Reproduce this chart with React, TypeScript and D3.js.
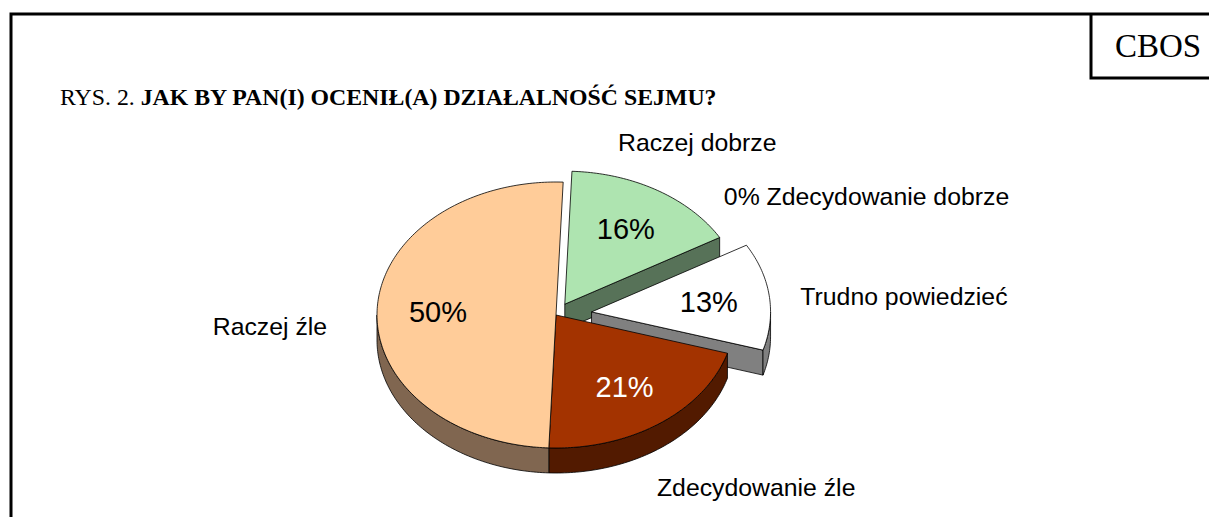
import React, { useEffect, useRef } from 'react';
import * as d3 from 'd3';

// survey answers, clockwise from the top of the pie
const categories = ['Raczej dobrze', 'Zdecydowanie dobrze', 'Trudno powiedzieć', 'Zdecydowanie źle', 'Raczej źle'];
const values = [16, 0, 13, 21, 50];

const topColors = ['#aee4b0', '#99ccff', '#ffffff', '#a33300', '#ffcc99'];
const sideColors = ['#577258', '#4d6680', '#808080', '#521a00', '#806650'];
const pctColors = ['#000', '#000', '#000', '#fff', '#000'];
const explode = [0.095, 0, 0.2, 0, 0];
// label nudge relative to the outer mid point of each slice: [dx, dy, anchor]
const labelNudge: [number, number, string][] = [
  [40, -48, 'middle'],
  [13, -52, 'start'],
  [31, 0, 'start'],
  [-3, 64, 'start'],
  [-50, 16, 'end'],
];

const W = 1209;
const H = 517;

const App = () => {
  const ref = useRef<SVGSVGElement>(null);

  useEffect(() => {
    const svg = d3.select(ref.current);
    svg.selectAll('*').remove();

    const sans = 'Liberation Sans, Arial, sans-serif';
    const serif = 'Liberation Serif, Times New Roman, serif';

    // frame and CBOS box
    const frame = svg.append('g').attr('stroke', '#000').attr('stroke-width', 3).attr('fill', 'none');
    frame.append('path').attr('d', `M11,517 L11,14 L${W},14`);
    frame.append('path').attr('d', `M1091,14 L1091,78 L${W},78`);

    svg.append('text')
      .attr('x', 1158).attr('y', 57)
      .attr('text-anchor', 'middle')
      .attr('font-family', serif).attr('font-size', 33)
      .text('CBOS');

    const title = svg.append('text')
      .attr('x', 60).attr('y', 105)
      .attr('font-family', serif).attr('font-size', 23.8);
    title.append('tspan').text('RYS. 2. ');
    title.append('tspan').attr('font-weight', 'bold').text('JAK BY PAN(I) OCENIŁ(A) DZIAŁALNOŚĆ SEJMU?');

    // 3D pie
    const cx = 556, cy = 315, rx = 179, ry = 133, depth = 25;
    const start = (2.3 * Math.PI) / 180;
    const pie = d3.pie<number>().sort(null).value((d) => d).startAngle(start).endAngle(start + 2 * Math.PI);
    const arcs = pie(values);
    const total = d3.sum(values);

    const slices = arcs.map((a, i) => {
      const mid = (a.startAngle + a.endAngle) / 2;
      const e = explode[i];
      const off: [number, number] = [e * rx * Math.sin(mid), -e * ry * Math.cos(mid)];
      return { a, i, mid, off };
    });

    const pt = (ang: number, k: number, off: [number, number], dz = 0): [number, number] => [
      cx + off[0] + k * rx * Math.sin(ang),
      cy + off[1] - k * ry * Math.cos(ang) + dz,
    ];
    const arcPts = (a0: number, a1: number, off: [number, number], dz = 0) => {
      const n = Math.max(2, Math.ceil(((a1 - a0) * 180) / Math.PI));
      return d3.range(n + 1).map((j) => pt(a0 + ((a1 - a0) * j) / n, 1, off, dz));
    };
    const line = d3.line();

    const gWalls = svg.append('g').attr('stroke', '#000').attr('stroke-width', 0.8).attr('stroke-linejoin', 'round');
    const gSides = svg.append('g').attr('stroke', '#000').attr('stroke-width', 0.8).attr('stroke-linejoin', 'round');
    const gTops = svg.append('g').attr('stroke', '#000').attr('stroke-width', 0.8).attr('stroke-linejoin', 'round');

    slices.forEach(({ a, i, off }) => {
      if (a.endAngle - a.startAngle <= 0) return;
      const c = pt(0, 0, off);

      // radial walls that face the viewer
      [
        [a.startAngle, a.startAngle - Math.PI / 2],
        [a.endAngle, a.endAngle + Math.PI / 2],
      ].forEach(([ang, normal]) => {
        if (Math.cos(normal) < -0.1) {
          const o = pt(ang, 1, off);
          gWalls.append('path')
            .attr('d', line([c, o, [o[0], o[1] + depth], [c[0], c[1] + depth]]) + 'Z')
            .attr('fill', sideColors[i]);
        }
      });

      // outer curved wall, front half only
      [0, 1].forEach((m) => {
        const lo = Math.max(a.startAngle, Math.PI / 2 + 2 * Math.PI * m);
        const hi = Math.min(a.endAngle, (3 * Math.PI) / 2 + 2 * Math.PI * m);
        if (hi > lo) {
          const topEdge = arcPts(lo, hi, off);
          const bottomEdge = arcPts(lo, hi, off, depth).reverse();
          gSides.append('path')
            .attr('d', line([...topEdge, ...bottomEdge]) + 'Z')
            .attr('fill', sideColors[i]);
        }
      });

      gTops.append('path')
        .attr('d', line([c, ...arcPts(a.startAngle, a.endAngle, off)]) + 'Z')
        .attr('fill', topColors[i]);
    });

    // labels
    const fmt = (v: number) => `${Math.round((v / total) * 100)}%`;
    slices.forEach(({ i, mid, off }) => {
      const v = values[i];
      if (v > 0) {
        const p = pt(mid, 0.66, off);
        svg.append('text')
          .attr('x', p[0]).attr('y', p[1] + 10.3)
          .attr('text-anchor', 'middle')
          .attr('font-family', sans).attr('font-size', 29)
          .attr('fill', pctColors[i])
          .text(fmt(v));
      }
      const o = pt(mid, 1, off);
      const [dx, dy, anchor] = labelNudge[i];
      svg.append('text')
        .attr('x', o[0] + dx).attr('y', o[1] + dy + 9)
        .attr('text-anchor', anchor)
        .attr('font-family', sans).attr('font-size', 24.8)
        .text(v > 0 ? categories[i] : `${fmt(v)} ${categories[i]}`);
    });
  }, []);

  return (
    <svg
      ref={ref}
      width={W}
      height={H}
      style={{ position: 'absolute', left: 0, top: 0, background: '#fff' }}
    />
  );
};

export default App;
